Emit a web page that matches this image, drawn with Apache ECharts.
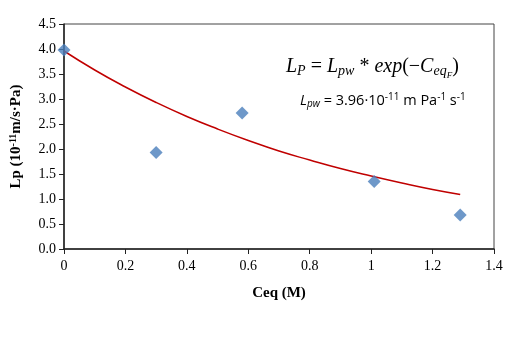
<!DOCTYPE html>
<html>
<head>
<meta charset="utf-8">
<script src="https://cdn.jsdelivr.net/npm/echarts@6/dist/echarts.min.js"></script>
<style>
  html, body { margin: 0; padding: 0; background: #fff; }
  #chart { width: 521px; height: 341px; }
</style>
</head>
<body>
<div id="chart"></div>
<script>
// measured points
var ceqValues = [0, 0.30, 0.58, 1.01, 1.29]
var lpValues = [3.98, 1.93, 2.72, 1.35, 0.68]
// fitted curve
var curveX = [0, 0.1, 0.2, 0.3, 0.4, 0.5, 0.6, 0.7, 0.8, 0.9, 1.0, 1.1, 1.2, 1.29]
var curveY = [3.96, 3.58, 3.24, 2.93, 2.65, 2.40, 2.17, 1.96, 1.78, 1.61, 1.46, 1.32, 1.19, 1.09]
var xTicks = ['0', '0.2', '0.4', '0.6', '0.8', '1', '1.2', '1.4']
var yTicks = ['0.0', '0.5', '1.0', '1.5', '2.0', '2.5', '3.0', '3.5', '4.0', '4.5']

var points = ceqValues.map(function (x, i) { return [x, lpValues[i]] })
var curve = curveX.map(function (x, i) { return [x, curveY[i]] })

var serif = '"Liberation Serif", "Times New Roman", serif'
var sans = '"Open Sans", sans-serif'
var chart = echarts.init(document.getElementById('chart'))
chart.setOption({
  animation: false,
  grid: { left: 63, top: 24, right: 27, bottom: 92, show: true, borderColor: '#444', borderWidth: 1 },
  xAxis: {
    type: 'value', min: 0, max: 1.4, interval: 0.2,
    name: 'Ceq (M)', nameLocation: 'middle', nameGap: 37,
    nameTextStyle: { fontFamily: serif, fontWeight: 'bold', fontSize: 15, color: '#000' },
    axisLine: { lineStyle: { color: '#222', width: 1.5 } },
    axisTick: { show: true, length: 5, lineStyle: { color: '#222' } },
    axisLabel: {
      fontFamily: serif, fontSize: 14, color: '#000', margin: 10,
      formatter: function (v) { return xTicks[Math.round(v / 0.2)] }
    },
    splitLine: { show: false }
  },
  yAxis: {
    type: 'value', min: 0, max: 4.5, interval: 0.5,
    name: '{b|Lp (10}{s|-11}{b|m/s·Pa)}', nameLocation: 'middle', nameGap: 40, nameRotate: 90,
    nameTextStyle: {
      rich: {
        b: { fontFamily: serif, fontWeight: 'bold', fontSize: 15, color: '#000' },
        s: { fontFamily: serif, fontWeight: 'bold', fontSize: 10, color: '#000', verticalAlign: 'top', padding: [0, 0, 6, 0] }
      }
    },
    axisLine: { show: true, lineStyle: { color: '#222', width: 1.5 } },
    axisTick: { show: true, length: 5, lineStyle: { color: '#222' } },
    axisLabel: {
      fontFamily: serif, fontSize: 14, color: '#000', margin: 8,
      formatter: function (v) { return yTicks[Math.round(v / 0.5)] }
    },
    splitLine: { show: false }
  },
  series: [
    {
      type: 'line', data: curve, smooth: true, showSymbol: false, z: 2,
      lineStyle: { color: '#c00000', width: 1.5 }
    },
    {
      type: 'scatter', data: points, symbol: 'diamond', symbolSize: 13, z: 3,
      itemStyle: { color: '#4a7ebb' }
    }
  ],
  graphic: [
    {
      type: 'text', left: 286, top: 57,
      style: {
        text: '{i|L}{sub|P}{n| = }{i|L}{sub|pw}{n| * }{i|exp}{n|(−}{i|C}{sub|eq}{ss|F}{n|)}',
        rich: {
          i: { fontFamily: serif, fontStyle: 'italic', fontSize: 20, fill: '#000' },
          n: { fontFamily: serif, fontSize: 20, fill: '#000' },
          sub: { fontFamily: serif, fontStyle: 'italic', fontSize: 14, fill: '#000', padding: [9, 0, 0, 0] },
          ss: { fontFamily: serif, fontStyle: 'italic', fontSize: 9, fill: '#000', padding: [18, 0, 0, 0] }
        }
      }
    },
    {
      type: 'text', left: 300, top: 92,
      style: {
        text: '{i|L}{sub|pw}{n| = 3.96·10}{sup|-11}{n| m Pa}{sup|-1}{n| s}{sup|-1}',
        rich: {
          i: { fontFamily: sans, fontStyle: 'italic', fontSize: 14.5, fill: '#000' },
          n: { fontFamily: sans, fontSize: 14.5, fill: '#000' },
          sub: { fontFamily: sans, fontStyle: 'italic', fontSize: 10, fill: '#000', padding: [7, 0, 0, 0] },
          sup: { fontFamily: sans, fontSize: 10, fill: '#000', padding: [0, 0, 8, 0] }
        }
      }
    }
  ]
})
</script>
</body>
</html>
